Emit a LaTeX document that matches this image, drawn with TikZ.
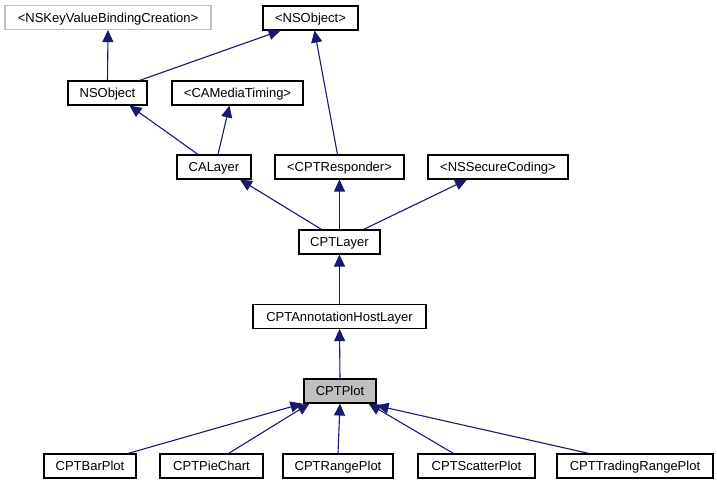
\documentclass[tikz,border=0pt]{standalone}
\usepackage{xcolor}
\usepackage{fontspec}
\setmainfont{Liberation Sans}
\usepackage{tikz}
\usetikzlibrary{arrows.meta}
\definecolor{edgeblue}{RGB}{25,25,112}
\definecolor{boxgray}{RGB}{191,191,191}

\begin{document}
\begin{tikzpicture}[x=1bp,y=-1bp,
    cls/.style={draw=black,fill=white,line width=1.1bp,inner sep=0pt,minimum height=24bp,text height=9.3bp,text depth=0pt,font=\fontsize{13bp}{15bp}\selectfont},
    extcls/.style={cls,draw=boxgray},
    curcls/.style={cls,fill=boxgray},
    inherit/.style={draw=edgeblue,line width=1.1bp,-{Triangle[length=12bp,width=11bp]}}]
        \useasboundingbox (0,0) rectangle (717,485);

        % Top row
        \node[extcls,minimum width=206bp] (kvb) at (108,17.5) {<NSKeyValueBindingCreation>};
        \node[cls,minimum width=95bp] (nsobjproto) at (310.5,18) {<NSObject>};

        % Second row
        \node[cls,minimum width=79bp] (nsobject) at (107.5,93) {NSObject};
        \node[cls,minimum width=131bp] (camedia) at (237.5,93) {<CAMediaTiming>};

        % Third row
        \node[cls,minimum width=74bp] (calayer) at (214,167) {CALayer};
        \node[cls,minimum width=129bp] (responder) at (339.5,167) {<CPTResponder>};
        \node[cls,minimum width=140bp] (coding) at (498,167) {<NSSecureCoding>};

        % Middle column
        \node[cls,minimum width=81bp] (cptlayer) at (339.5,242) {CPTLayer};
        \node[cls,minimum width=173bp] (annot) at (339.5,316.5) {CPTAnnotationHostLayer};
        \node[curcls,minimum width=72bp] (plot) at (340,391) {CPTPlot};

        % Bottom row
        \node[cls,minimum width=92bp] (bar) at (90,466) {CPTBarPlot};
        \node[cls,minimum width=103bp] (pie) at (211.5,466) {CPTPieChart};
        \node[cls,minimum width=110bp] (range) at (338,466) {CPTRangePlot};
        \node[cls,minimum width=117bp] (scatter) at (476.5,466) {CPTScatterPlot};
        \node[cls,minimum width=156bp] (trading) at (635,466) {CPTTradingRangePlot};

        % Inheritance edges
        \draw[inherit] (nsobject.north) -- (kvb.south);
        \draw[inherit] ([xshift=32bp]nsobject.north) -- ([xshift=-30bp]nsobjproto.south);
        \draw[inherit] ([xshift=-16bp]calayer.north) -- ([xshift=22bp]nsobject.south);
        \draw[inherit] ([xshift=4bp]calayer.north) -- ([xshift=-8bp]camedia.south);
        \draw[inherit] ([xshift=-2bp]responder.north) -- ([xshift=4bp]nsobjproto.south);
        \draw[inherit] ([xshift=-18bp]cptlayer.north) -- ([xshift=26bp]calayer.south);
        \draw[inherit] (cptlayer.north) -- (responder.south);
        \draw[inherit] ([xshift=24bp]cptlayer.north) -- ([xshift=-31bp]coding.south);
        \draw[inherit] (annot.north) -- (cptlayer.south);
        \draw[inherit] (plot.north) -- (annot.south);
        \draw[inherit] ([xshift=38bp]bar.north) -- ([xshift=-1bp]plot.south west);
        \draw[inherit] ([xshift=17bp]pie.north) -- ([xshift=6bp]plot.south west);
        \draw[inherit] (range.north) -- (plot.south);
        \draw[inherit] ([xshift=-23bp]scatter.north) -- ([xshift=-8bp]plot.south east);
        \draw[inherit] ([xshift=-46bp]trading.north) -- ([yshift=-2bp]plot.south east);
\end{tikzpicture}
\end{document}
